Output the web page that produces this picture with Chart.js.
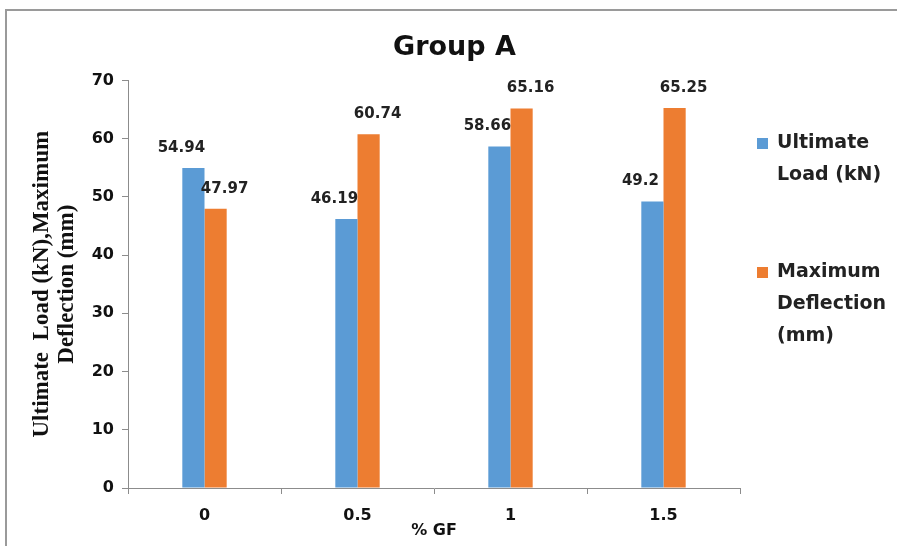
<!DOCTYPE html>
<html>
<head>
<meta charset="utf-8">
<style>
  html, body { margin: 0; padding: 0; background: #fff; }
  #wrap { position: relative; width: 897px; height: 546px; }
</style>
</head>
<body>
<div id="wrap">
  <canvas id="myChart" width="897" height="546"></canvas>
</div>

<script src="https://cdn.jsdelivr.net/npm/chart.js"></script>

<script>
  // data
  const categories = ['0', '0.5', '1', '1.5'];
  const ultimateLoad = [54.94, 46.19, 58.66, 49.2];
  const maxDeflection = [47.97, 60.74, 65.16, 65.25];
  const seriesNames = ['Ultimate Load (kN)', 'Maximum Deflection (mm)'];
  const legendLines = [['Ultimate', 'Load (kN)'], ['Maximum', 'Deflection', '(mm)']];
  const yTitle = ['Ultimate  Load (kN),Maximum', 'Deflection (mm)'];

  const blue = '#5B9BD5';
  const orange = '#ED7D31';
  const sans = '"DejaVu Sans", sans-serif';
  const serif = '"Liberation Serif", "DejaVu Serif", serif';

  // frame line round the picture
  const frame = {
    id: 'frame',
    beforeDraw(chart) {
      const c = chart.ctx;
      c.save();
      c.strokeStyle = '#9a9a9a';
      c.lineWidth = 2;
      c.beginPath();
      c.moveTo(897, 10);
      c.lineTo(6, 10);
      c.lineTo(6, 546);
      c.stroke();
      c.restore();
    }
  };

  // value labels above bars
  const valueLabels = {
    id: 'valueLabels',
    afterDatasetsDraw(chart) {
      const c = chart.ctx;
      c.save();
      c.font = 'bold 15px ' + sans;
      c.fillStyle = '#222';
      c.textAlign = 'center';
      c.textBaseline = 'middle';
      chart.data.datasets.forEach((ds, i) => {
        const meta = chart.getDatasetMeta(i);
        const shift = i === 0 ? -12 : 9;
        meta.data.forEach((bar, j) => {
          c.fillText(String(ds.data[j]), bar.x + shift, bar.y - 20);
        });
      });
      c.restore();
    }
  };

  // legend on the right, labels wrapped like the original
  const sideLegend = {
    id: 'sideLegend',
    afterDraw(chart) {
      const c = chart.ctx;
      const tops = [143, 272];
      c.save();
      c.font = 'bold 19px ' + sans;
      c.textBaseline = 'middle';
      chart.data.datasets.forEach((ds, i) => {
        c.fillStyle = ds.backgroundColor;
        c.fillRect(757, tops[i] - 5, 11, 11);
        c.fillStyle = '#222';
        legendLines[i].forEach((t, k) => {
          c.fillText(t, 777, tops[i] + k * 32);
        });
      });
      c.restore();
    }
  };

  const ctx = document.getElementById('myChart');

  const data = {
    labels: categories,
    datasets: [
      {
        label: seriesNames[0],
        data: ultimateLoad,
        backgroundColor: blue,
        categoryPercentage: 0.29,
        barPercentage: 1.0
      },
      {
        label: seriesNames[1],
        data: maxDeflection,
        backgroundColor: orange,
        categoryPercentage: 0.29,
        barPercentage: 1.0
      }
    ]
  };

  const config = {
    type: 'bar',
    data: data,
    plugins: [frame, valueLabels, sideLegend],
    options: {
      responsive: false,
      animation: false,
      layout: {
        padding: { top: 8, right: 8, bottom: 6, left: 20 }
      },
      plugins: {
        legend: { display: false },
        tooltip: { enabled: false },
        title: {
          display: true,
          text: 'Group A',
          color: '#111',
          font: { family: sans, size: 27, weight: 'bold' },
          padding: { top: 24, bottom: 16 }
        }
      },
      scales: {
        x: {
          grid: {
            drawOnChartArea: false,
            color: '#8c8c8c',
            tickLength: 6,
            offset: true
          },
          border: { color: '#8c8c8c', width: 1 },
          ticks: {
            color: '#111',
            font: { family: sans, size: 16, weight: 'bold' },
            padding: 12
          },
          title: {
            display: true,
            text: '% GF',
            color: '#111',
            font: { family: sans, size: 16, weight: 'bold' },
            padding: { top: -6, bottom: 0 }
          },
          afterFit(scale) { scale.height = 52; }
        },
        y: {
          min: 0,
          max: 70,
          ticks: {
            stepSize: 10,
            color: '#111',
            font: { family: sans, size: 16, weight: 'bold' },
            padding: 8
          },
          grid: {
            drawOnChartArea: false,
            color: '#8c8c8c',
            tickLength: 6
          },
          border: { color: '#8c8c8c', width: 1 },
          title: {
            display: true,
            text: yTitle,
            color: '#111',
            font: { family: serif, size: 23, weight: 'bold', lineHeight: 1.1 },
            padding: { top: 9, bottom: 0 }
          },
          afterFit(scale) { scale.width = 108; }
        },
        // empty axis that keeps room for the legend on the right
        side: {
          type: 'linear',
          position: 'right',
          display: true,
          grid: { display: false },
          border: { display: false },
          ticks: { display: false },
          afterFit(scale) { scale.width = 149; }
        }
      }
    }
  };

  new Chart(ctx, config);
</script>
</body>
</html>
